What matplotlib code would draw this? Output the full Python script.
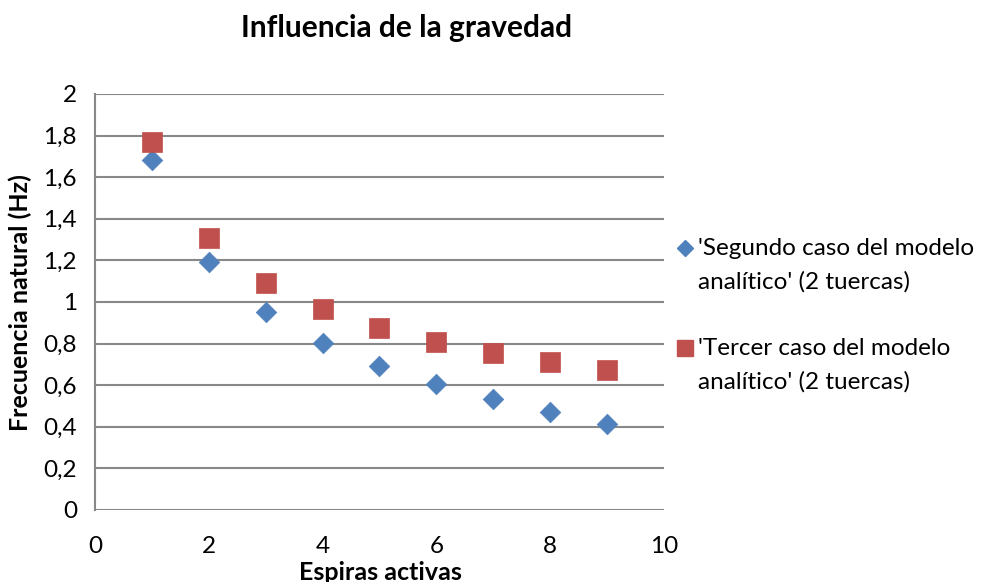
import matplotlib
matplotlib.use("Agg")
import matplotlib.pyplot as plt
from matplotlib.lines import Line2D
from matplotlib.ticker import FuncFormatter, MultipleLocator

plt.rcParams['font.family'] = ['Lato', 'DejaVu Sans']

espiras = [1, 2, 3, 4, 5, 6, 7, 8, 9]
segundo_caso = [1.684, 1.190, 0.954, 0.802, 0.691, 0.605, 0.533, 0.469, 0.413]
tercer_caso = [1.768, 1.306, 1.093, 0.965, 0.875, 0.806, 0.755, 0.712, 0.675]

label_segundo = "'Segundo caso del modelo\nanalítico' (2 tuercas)"
label_tercer = "'Tercer caso del modelo\nanalítico' (2 tuercas)"

AZUL = '#4F81BD'
ROJO = '#C0504D'
GRIS = '#888888'

W, H = 987, 582
fig = plt.figure(figsize=(W / 100, H / 100), dpi=100)
ax = fig.add_axes([95 / W, 1 - 510 / H, (664 - 95) / W, (510 - 94) / H])

ax.scatter(espiras, segundo_caso, marker='D', s=110, color=AZUL,
           edgecolors=AZUL, linewidths=0.5, zorder=3)
ax.scatter(espiras, tercer_caso, marker='s', s=210, color=ROJO,
           edgecolors=ROJO, linewidths=0.5, zorder=3)

ax.set_xlim(0, 10)
ax.set_ylim(0, 2)
ax.xaxis.set_major_locator(MultipleLocator(2))
ax.yaxis.set_major_locator(MultipleLocator(0.2))
ax.yaxis.set_major_formatter(FuncFormatter(
    lambda v, p: f"{v:.1f}".rstrip('0').rstrip('.').replace('.', ',')))
ax.xaxis.set_major_formatter(FuncFormatter(lambda v, p: f"{v:.0f}"))

ax.grid(axis='y', color=GRIS, linewidth=1.5)
ax.set_axisbelow(True)
for s in ['top', 'right', 'bottom']:
    ax.spines[s].set_visible(False)
ax.spines['left'].set_color(GRIS)
ax.spines['left'].set_linewidth(1.5)
ax.tick_params(axis='y', length=0, labelsize=17.5, pad=13)
ax.tick_params(axis='x', length=0, labelsize=17.5, pad=18.5)

fig.text(407 / W, 1 - 28 / H, 'Influencia de la gravedad', fontsize=21.5,
         fontweight='bold', ha='center', va='center')
fig.text(380 / W, 1 - 572 / H, 'Espiras activas', fontsize=18,
         fontweight='bold', ha='center', va='center')
fig.text(20 / W, 1 - 303 / H, 'Frecuencia natural (Hz)', fontsize=18,
         fontweight='bold', ha='center', va='center', rotation=90)

# legend drawn beside the plot, marker aligned with the first text line
entradas = [(label_segundo, 'D', 8.5, AZUL, 248),
            (label_tercer, 's', 11.5, ROJO, 348)]
for texto, marca, tam, color, y in entradas:
    fig.add_artist(Line2D([685 / W], [1 - y / H], transform=fig.transFigure,
                          marker=marca, markersize=tam, color=color,
                          linestyle='none'))
    fig.text(698 / W, 1 - (y - 10) / H, texto, fontsize=17.5,
             ha='left', va='top', linespacing=1.7)

fig.savefig('out.png', dpi=100)
